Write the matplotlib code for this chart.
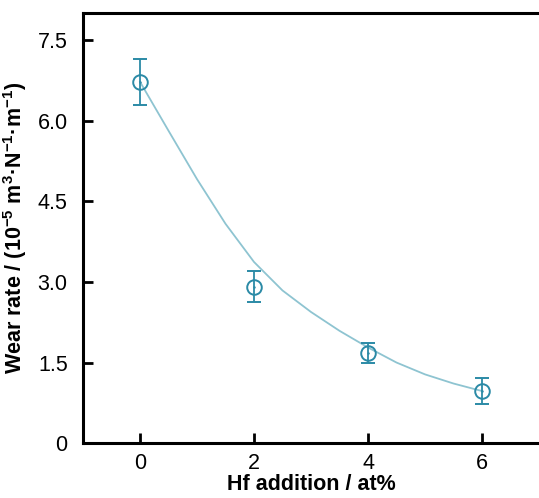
import matplotlib
matplotlib.use("Agg")
import matplotlib.pyplot as plt

plt.rcParams['font.family'] = ['Liberation Sans', 'DejaVu Sans']
plt.rcParams['mathtext.fontset'] = 'custom'
plt.rcParams['mathtext.rm'] = 'Liberation Sans:bold'
plt.rcParams['mathtext.bf'] = 'Liberation Sans:bold'
plt.rcParams['mathtext.default'] = 'bf'

# measured points
hf = [0, 2, 4, 6]
wear = [6.72, 2.90, 1.68, 0.97]
err_lo = [0.44, 0.27, 0.19, 0.24]
err_hi = [0.43, 0.30, 0.18, 0.24]

# fitted curve
fit_x = [0, 0.5, 1.0, 1.5, 2.0, 2.5, 3.0, 3.5, 4.0, 4.5, 5.0, 5.5, 6.0]
fit_y = [6.72, 5.81, 4.91, 4.08, 3.37, 2.84, 2.44, 2.09, 1.78, 1.50, 1.28, 1.11, 0.97]

xticks = [0, 2, 4, 6]
yticks = [0, 1.5, 3.0, 4.5, 6.0, 7.5]
ytick_labels = ['0', '1.5', '3.0', '4.5', '6.0', '7.5']

fig = plt.figure(figsize=(5.39, 4.98), dpi=100)
ax = fig.add_axes([0.154, 0.110, 0.846, 0.864])

ax.plot(fit_x, fit_y, color='#8ec4d1', lw=1.3, zorder=2)
ax.errorbar(hf, wear, yerr=[err_lo, err_hi], fmt='o', ms=10.5, mfc='none',
            mec='#2b8aa6', mew=1.4, ecolor='#2b8aa6', elinewidth=1.3,
            capsize=5, capthick=1.3, zorder=3)
ax.plot(hf, wear, ls='none', marker='.', ms=1.5, color='#2b8aa6', zorder=4)

ax.set_xlim(-1, 7)
ax.set_ylim(0, 8)
ax.set_xticks(xticks)
ax.set_yticks(yticks)
ax.set_yticklabels(ytick_labels)
ax.tick_params(direction='in', length=7, width=2, labelsize=15.5)
ax.tick_params(axis='y', pad=11)
ax.tick_params(axis='x', pad=7)

for s in ['left', 'bottom', 'top']:
    ax.spines[s].set_linewidth(2.2)
ax.spines['right'].set_visible(False)

ax.set_xlabel('Hf addition / at%', fontsize=15.5, fontweight='bold', labelpad=0)
ax.set_ylabel(r'Wear rate / (10$^{-5}$ m$^{3}$·N$^{-1}$·m$^{-1}$)',
              fontsize=15.5, fontweight='bold', labelpad=6)

fig.savefig('out.png', dpi=100)
